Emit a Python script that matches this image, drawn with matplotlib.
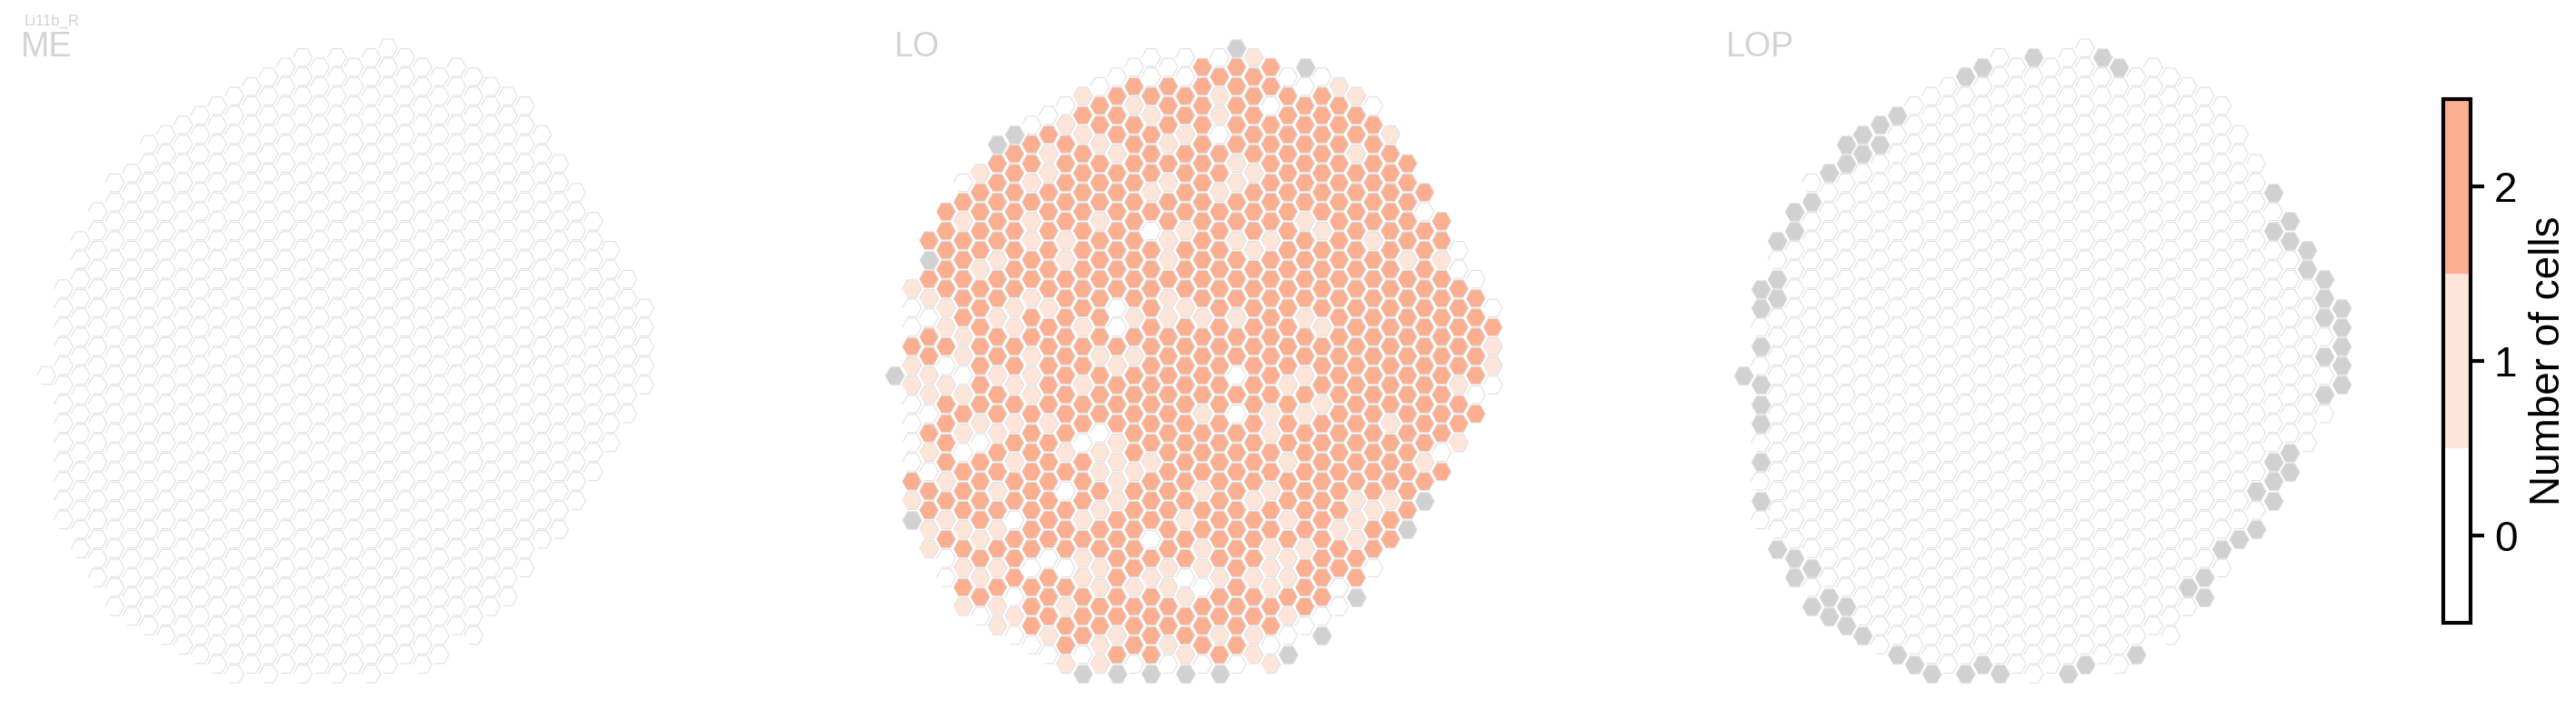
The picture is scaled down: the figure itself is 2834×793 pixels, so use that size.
"""
Hex-column eyemap: number of Li11b_R cells per column in ME, LO and LOP.
"""
import matplotlib
matplotlib.use("Agg")
import matplotlib.pyplot as plt
from matplotlib.cm import ScalarMappable
from matplotlib.colors import BoundaryNorm, ListedColormap

W, H = 2834, 793
plt.rcParams["font.family"] = ["Liberation Sans", "DejaVu Sans"]

# ── Data ───────────────────────────────────────────────────────────
# rows run in half steps, so a column covers top, top + 2, ... bottom
COL_TOP = [34, 25, 20, 17, 14, 13, 10, 9, 8, 7, 6, 5, 4, 3, 2, 1, 2, 1,
           2, 1, 0, 1, 2, 3, 2, 3, 4, 5, 6, 9, 12, 15, 18, 21, 24, 27]
COL_BOTTOM = [34, 49, 52, 55, 58, 59, 60, 61, 62, 63, 64, 65, 64, 65, 64, 65, 64, 65,
              64, 65, 64, 63, 64, 63, 60, 61, 58, 57, 54, 51, 50, 47, 44, 41, 38, 35]

# counts per column, x = column without data
LO_COUNTS = [
    "x",
    "10021 10000 21x",
    "2x210 22110 21022 11",
    "22222 11201 22221 21200",
    "02122 22211 01210 22212 121",
    "12222 12222 22210 22221 2120",
    "x2222 21221 22122 12212 12121 1",
    "x2222 22221 12212 12122 02220 10",
    "02212 11221 22111 22222 22202 220",
    "02112 22222 12222 21222 22202 2210",
    "01222 22112 22222 22212 02220 21221",
    "12122 22222 22122 12202 22121 12220 x",
    "02212 22122 22221 22201 12122 11221 1",
    "02221 22222 22002 12221 11122 22221 2x",
    "02122 22222 22212 12222 21222 22122 20",
    "00212 22120 22222 22222 21222 02122 22x",
    "02221 21221 12112 22222 22222 21122 10",
    "00221 22221 22212 22222 22221 22012 21x",
    "22222 22222 22212 22212 22122 11022 20",
    "02110 22122 22222 22222 22222 22122 12x",
    "x2222 21122 12221 22020 22222 22222 220",
    "12222 21222 12222 22222 22212 22122 11",
    "22022 22221 22222 22211 22122 11122 01",
    "02222 22222 22222 21222 12212 11210 x",
    "x0222 22212 22212 21212 22222 12220",
    "02222 22212 22212 22122 22222 2220x",
    "12222 22222 22222 22222 22212 200",
    "12212 22222 22222 22222 21112 2x",
    "02222 22122 22222 22222 21220",
    "12222 22222 22222 12221 22",
    "22222 12222 22222 2222x",
    "20222 22222 22221 2x",
    "22122 22222 2202",
    "00222 22122 1",
    "02222 202",
    "02110",
]

# (column, row) of the LOP columns without data, the others count 0
LOP_NO_DATA = [
    (17, 1), (21, 1), (14, 2), (22, 2), (13, 3), (9, 7), (8, 8), (7, 9), (6, 10), (8, 10),
    (7, 11), (6, 12), (5, 13), (4, 16), (3, 17), (3, 19), (2, 20), (2, 24), (1, 25), (2, 26),
    (1, 27), (1, 31), (0, 34), (1, 35), (1, 37), (1, 39), (1, 43), (1, 47), (2, 52), (3, 53),
    (4, 54), (3, 55), (5, 57), (4, 58), (6, 58), (5, 59), (6, 60), (7, 61), (9, 63), (10, 64),
    (11, 65), (13, 65), (14, 64), (15, 65), (19, 65), (20, 64), (23, 63), (27, 55), (26, 56), (27, 57),
    (28, 52), (29, 51), (30, 50), (31, 47), (30, 46), (31, 45), (32, 44), (31, 43), (32, 42), (34, 36),
    (35, 35), (35, 33), (34, 32), (35, 31), (35, 29), (34, 28), (35, 27), (34, 26), (34, 24), (33, 23),
    (33, 21), (32, 20), (31, 19), (32, 18), (31, 15),
]

NEUROPILS = ["ME", "LO", "LOP"]
LEVELS = [0, 1, 2]
LABEL = "Number of cells"
CELL_TYPE = "Li11b_R"

# ── Style ──────────────────────────────────────────────────────────
COLORS = ["#ffffff", "#fee5d9", "#fcae91"]
NO_DATA = "#d1d1d1"
EDGE = "#dfdfdf"
TITLE = "#d3d3d3"
HEX = [(-1, 0), (-0.48, 0.92), (0.48, 0.92), (1, 0), (0.48, -0.92), (-0.48, -0.92)]
HEX_SIZE = 25.5
COL_STEP = 18.8
ROW_STEP = 10.594

cmap = ListedColormap(COLORS)
norm = BoundaryNorm([-0.5, 0.5, 1.5, 2.5], cmap.N)


def cells(counts=None, no_data=()):
    """Return x, y, value of the counted cells and x, y of the empty ones."""
    xs, ys, vals, gx, gy = [], [], [], [], []
    for col, (top, bottom) in enumerate(zip(COL_TOP, COL_BOTTOM)):
        rows = range(top, bottom + 1, 2)
        col_vals = ["0"] * len(rows)
        if counts is not None:
            col_vals = list(counts[col].replace(" ", ""))
            assert len(col_vals) == len(rows), col
        for row, v in zip(rows, col_vals):
            if v == "x" or (col, row) in no_data:
                gx.append(col)
                gy.append(row)
            else:
                xs.append(col)
                ys.append(row)
                vals.append(int(v))
    return xs, ys, vals, gx, gy


PANELS = [cells(), cells(LO_COUNTS), cells(no_data=set(LOP_NO_DATA))]
PANEL_LEFT = [51.0, 984.4, 1917.8]
TITLE_X = [23, 984, 1899]

fig = plt.figure(figsize=(W / 300, H / 300), dpi=300)


def px_axes(left, top, right, bottom):
    return fig.add_axes([left / W, 1 - bottom / H, (right - left) / W, (bottom - top) / H])


for name, panel, col0, tx in zip(NEUROPILS, PANELS, PANEL_LEFT, TITLE_X):
    xs, ys, vals, gx, gy = panel
    # one extra column and two extra half rows around the lattice
    ax = px_axes(col0 - COL_STEP, 52.7 - 2 * ROW_STEP, col0 + 36 * COL_STEP, 52.7 + 67 * ROW_STEP)
    ax.set_xlim(-1, 36)
    ax.set_ylim(67, -2)
    ax.axis("off")
    ax.scatter(xs, ys, c=vals, cmap=cmap, norm=norm, marker=HEX, s=HEX_SIZE,
               edgecolors=EDGE, linewidths=0.25, clip_on=False)
    ax.scatter(gx, gy, c=NO_DATA, marker=HEX, s=HEX_SIZE,
               edgecolors=EDGE, linewidths=0.25, clip_on=False)
    fig.text(tx / W, 1 - 61.7 / H, name, fontsize=9, color=TITLE, ha="left", va="baseline")

fig.text(27 / W, 1 - 28 / H, CELL_TYPE, fontsize=4, color=TITLE, ha="left", va="baseline")

# ── Colorbar ───────────────────────────────────────────────────────
cax = px_axes(2688, 109, 2718, 685)
cb = fig.colorbar(ScalarMappable(norm=norm, cmap=cmap), cax=cax, ticks=LEVELS, spacing="proportional")
cb.outline.set_linewidth(1)
cb.ax.minorticks_off()
cb.ax.tick_params(length=3.6, width=1, labelsize=11, pad=2.6)
cb.ax.yaxis.set_ticks(LEVELS)
cb.set_label(LABEL, fontsize=11, labelpad=3)

fig.savefig("out.png", dpi=300, facecolor="white")
plt.close(fig)
